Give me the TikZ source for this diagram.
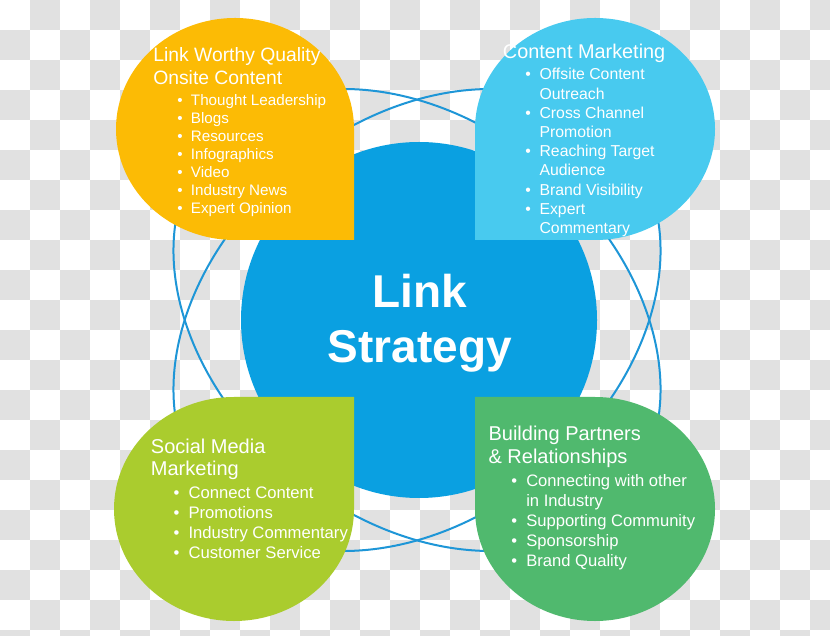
\documentclass[tikz,border=0pt]{standalone}
\usepackage{fontspec}
\setmainfont{Liberation Sans}
\usepackage{xcolor}
\usepackage{tikz}
\usetikzlibrary{positioning}

\definecolor{onsiteyellow}{HTML}{FCBB05}
\definecolor{outreachcyan}{HTML}{48CAEF}
\definecolor{hubblue}{HTML}{0AA0E1}
\definecolor{sociallime}{HTML}{AACC2E}
\definecolor{partnergreen}{HTML}{50B96E}
\definecolor{ringblue}{HTML}{1E96D7}
\definecolor{checkgrey}{HTML}{E1E1E1}
\newcommand{\bul}{\llap{\textbullet\hspace{0.55em}}}

\begin{document}
\begin{tikzpicture}[
        x=0.75pt, y=0.75pt,
        ring/.style={draw=ringblue, line width=1.5pt},
        heading/.style 2 args={text=white, inner sep=0pt, anchor=base west, font=\fontsize{#1}{#2}\selectfont},
        bullets/.style 2 args={text=white, inner sep=0pt, anchor=base west, font=\fontsize{#1}{#2}\selectfont},
        hubtext/.style={text=white, inner sep=0pt, anchor=base, font=\fontsize{34.5pt}{41.25pt}\selectfont\bfseries}
    ]
    \useasboundingbox (0,0) rectangle (830,635);
    % transparency checker behind everything
    \fill[white] (0,0) rectangle (830,635);
    \begin{scope}
        \clip (0,0) rectangle (830,635);
        \foreach \i in {0,...,27}{
            \foreach \j in {0,...,21}{
                \pgfmathtruncatemacro{\odd}{mod(\i+\j,2)}
                \ifnum\odd=1
                    \fill[checkgrey] (30*\i,635-30*\j) rectangle ++(30,-30);
                \fi
            }
        }
    \end{scope}

    % crossing orbits
    \coordinate (orbit) at (417,315);
    \draw[ring, rotate around={-40:(orbit)}] (orbit) ellipse [x radius=271, y radius=198];
    \draw[ring, rotate around={40:(orbit)}] (orbit) ellipse [x radius=271, y radius=198];

    % centre
    \node[circle, fill=hubblue, minimum size=267pt, inner sep=0pt] (hub) at (419,315) {};
    \node[hubtext] (hublabel) at (420,327) {\begin{tabular}[t]{@{}c@{}}Link\\Strategy\end{tabular}};

    % petals
    \fill[onsiteyellow] (354,395) -- (354,506) arc[start angle=0, end angle=270, x radius=119, y radius=111] -- cycle;
    \fill[outreachcyan] (475,395) -- (595,395) arc[start angle=-90, end angle=180, x radius=120, y radius=111] -- cycle;
    \fill[sociallime] (354,238) -- (234,238) arc[start angle=90, end angle=360, x radius=120, y radius=112] -- cycle;
    \fill[partnergreen] (475,238) -- (475,126) arc[start angle=180, end angle=450, x radius=120, y radius=112] -- cycle;

    % top left
    \node[heading={14.5pt}{17.25pt}] (onsitehead) at (153,573) {\begin{tabular}[t]{@{}l@{}}Link Worthy Quality\\Onsite Content\end{tabular}};
    \node[bullets={11.4pt}{13.45pt}] (onsitelist) at (190.7,529.3) {\begin{tabular}[t]{@{}l@{}}
        \bul Thought Leadership\\ \bul Blogs\\ \bul Resources\\ \bul Infographics\\
        \bul Video\\ \bul Industry News\\ \bul Expert Opinion\end{tabular}};

    % top right
    \node[heading={14.9pt}{17pt}] (outreachhead) at (502.7,576) {\begin{tabular}[t]{@{}l@{}}Content Marketing\end{tabular}};
    \node[bullets={11.85pt}{14.4pt}] (outreachlist) at (539.3,555) {\begin{tabular}[t]{@{}l@{}}
        \bul Offsite Content\\ Outreach\\ \bul Cross Channel\\ Promotion\\
        \bul Reaching Target\\ Audience\\ \bul Brand Visibility\\ \bul Expert\\ Commentary\end{tabular}};

    % bottom left
    \node[heading={15pt}{17pt}] (socialhead) at (150.7,181.7) {\begin{tabular}[t]{@{}l@{}}Social Media\\Marketing\end{tabular}};
    \node[bullets={12.5pt}{15pt}] (sociallist) at (188.3,136.7) {\begin{tabular}[t]{@{}l@{}}
        \bul Connect Content\\ \bul Promotions\\ \bul Industry Commentary\\ \bul Customer Service\end{tabular}};

    % bottom right
    \node[heading={15pt}{18pt}] (partnerhead) at (488.3,195) {\begin{tabular}[t]{@{}l@{}}Building Partners\\\& Relationships\end{tabular}};
    \node[bullets={12.45pt}{14.9pt}] (partnerlist) at (526,148.3) {\begin{tabular}[t]{@{}l@{}}
        \bul Connecting with other\\ in Industry\\ \bul Supporting Community\\
        \bul Sponsorship\\ \bul Brand Quality\end{tabular}};
\end{tikzpicture}
\end{document}
